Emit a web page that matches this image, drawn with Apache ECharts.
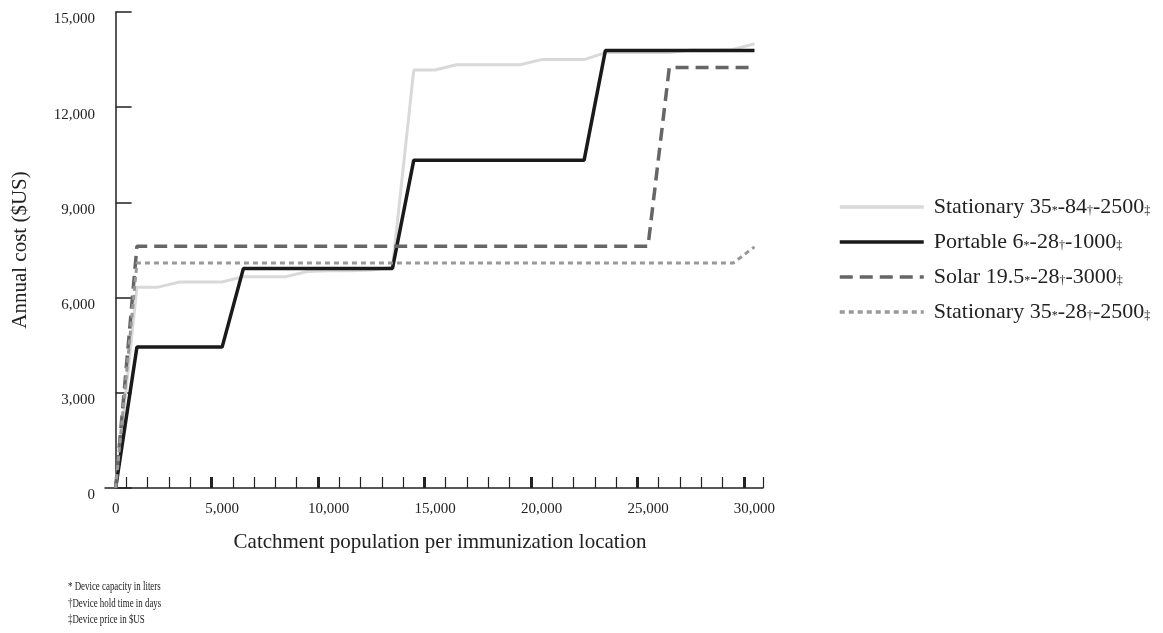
<!DOCTYPE html>
<html>
<head>
<meta charset="utf-8">
<script src="https://cdn.jsdelivr.net/npm/echarts@6/dist/echarts.min.js"></script>
<style>
  html, body { margin: 0; padding: 0; background: #fff; }
  #chart { width: 1163px; height: 633px; }
</style>
</head>
<body>
<div id="chart"></div>
<script>
// catchment population (x), one point every 1,000 people
const population = [0, 1000, 2000, 3000, 4000, 5000, 6000, 7000, 8000, 9000, 10000,
  11000, 12000, 13000, 14000, 15000, 16000, 17000, 18000, 19000, 20000,
  21000, 22000, 23000, 24000, 25000, 26000, 27000, 28000, 29000, 30000]

// annual cost ($US)
const stationary84 = [0, 6330, 6330, 6490, 6490, 6490, 6660, 6660, 6660, 6820, 6850,
  6850, 6870, 6950, 13170, 13170, 13340, 13340, 13340, 13340, 13500,
  13500, 13500, 13720, 13720, 13720, 13720, 13800, 13800, 13820, 14000]
const portable = [0, 4440, 4440, 4440, 4440, 4440, 6920, 6920, 6920, 6920, 6920,
  6920, 6920, 6920, 10330, 10330, 10330, 10330, 10330, 10330, 10330,
  10330, 10330, 13790, 13790, 13790, 13790, 13790, 13790, 13790, 13790]
const solar = [0, 7620, 7620, 7620, 7620, 7620, 7620, 7620, 7620, 7620, 7620,
  7620, 7620, 7620, 7620, 7620, 7620, 7620, 7620, 7620, 7620,
  7620, 7620, 7620, 7620, 7620, 13250, 13250, 13250, 13250, 13250]
const stationary28 = [0, 7090, 7090, 7090, 7090, 7090, 7090, 7090, 7090, 7090, 7090,
  7090, 7090, 7090, 7090, 7090, 7090, 7090, 7090, 7090, 7090,
  7090, 7090, 7090, 7090, 7090, 7090, 7090, 7090, 7090, 7600]

const xLabels = [0, 5000, 10000, 15000, 20000, 25000, 30000]
const minorTicks = [500, 1500, 2500, 3500, 5500, 6500, 7500, 8500, 10500, 11500, 12500, 13500,
  15500, 16500, 17500, 18500, 20500, 21500, 22500, 23500, 25500, 26500, 27500, 28500, 30400]
const majorTicks = [4500, 9500, 14500, 19500, 24500, 29500]

const legendRich = {
  'Stationary 35-84-2500': 'Stationary 35{s|*}-84{s|†}-2500{s|‡}',
  'Portable 6-28-1000': 'Portable 6{s|*}-28{s|†}-1000{s|‡}',
  'Solar 19.5-28-3000': 'Solar 19.5{s|*}-28{s|†}-3000{s|‡}',
  'Stationary 35-28-2500': 'Stationary 35{s|*}-28{s|†}-2500{s|‡}',
}

const font = 'Liberation Serif'
const ink = '#222'
const pairs = arr => population.map((p, i) => [p, arr[i]])
const fmt = v => v.toLocaleString('en-US')

const chart = echarts.init(document.getElementById('chart'))
chart.setOption({
  animation: false,
  textStyle: { fontFamily: font, color: ink },
  grid: { left: 105, right: 400, top: 12, bottom: 145, containLabel: false, outerBoundsMode: 'none' },
  legend: {
    orient: 'vertical',
    left: 838, top: 196, padding: 0,
    itemWidth: 84, itemHeight: 22, itemGap: 13,
    itemStyle: { opacity: 0 },
    lineStyle: { width: 3.5 },
    textStyle: {
      fontFamily: font, fontSize: 22, color: ink, padding: [0, 0, 0, 5],
      rich: { s: { fontFamily: font, fontSize: 12, color: ink, padding: [7, 0, 0, 0] } },
    },
    formatter: name => legendRich[name],
  },
  xAxis: [
    {
      type: 'value', min: -500, max: 30400, position: 'bottom',
      name: 'Catchment population per immunization location',
      nameLocation: 'middle', nameGap: 44,
      nameTextStyle: { fontFamily: font, fontSize: 21, color: ink, padding: [0, 0, 0, 12] },
      splitLine: { show: false },
      axisLine: { onZero: false, lineStyle: { color: ink, width: 1.5 } },
      axisTick: { inside: true, length: 11, customValues: minorTicks, lineStyle: { color: ink, width: 1.2 } },
      axisLabel: { customValues: xLabels, margin: 14, fontSize: 15, color: ink, fontFamily: font, formatter: fmt },
    },
    {
      type: 'value', min: -500, max: 30400, position: 'bottom',
      splitLine: { show: false },
      axisLine: { show: false, onZero: false },
      axisTick: { inside: true, length: 11, customValues: majorTicks, lineStyle: { color: ink, width: 3 } },
      axisLabel: { show: false },
    },
  ],
  yAxis: {
    type: 'value', min: 0, max: 15000, interval: 3000,
    name: 'Annual cost ($US)',
    nameLocation: 'middle', nameGap: 74,
    nameTextStyle: { fontFamily: font, fontSize: 21, color: ink },
    splitLine: { show: false },
    axisLine: { show: true, lineStyle: { color: ink, width: 1.5 } },
    axisTick: { show: true, inside: true, length: 16, lineStyle: { color: ink, width: 1.5 } },
    axisLabel: { margin: 10, fontSize: 15, color: ink, fontFamily: font, verticalAlign: 'top', formatter: fmt },
  },
  series: [
    {
      name: 'Stationary 35-84-2500', type: 'line', data: pairs(stationary84),
      symbol: 'none', lineStyle: { color: '#d9d9d9', width: 3 }, itemStyle: { color: '#d9d9d9' },
    },
    {
      name: 'Portable 6-28-1000', type: 'line', data: pairs(portable),
      symbol: 'none', lineStyle: { color: '#1a1a1a', width: 3.5 }, itemStyle: { color: '#1a1a1a' },
    },
    {
      name: 'Solar 19.5-28-3000', type: 'line', data: pairs(solar),
      symbol: 'none', lineStyle: { color: '#666', width: 3.5, type: [13, 7] }, itemStyle: { color: '#666' },
    },
    {
      name: 'Stationary 35-28-2500', type: 'line', data: pairs(stationary28),
      symbol: 'none', lineStyle: { color: '#999', width: 3, type: [5, 4] }, itemStyle: { color: '#999' },
    },
  ],
  graphic: [
    {
      type: 'text', left: 68, top: 579, scaleX: 0.74,
      style: {
        text: '* Device capacity in liters\n†Device hold time in days\n‡Device price in $US',
        font: '12px "Liberation Serif"', fill: ink, lineHeight: 16.5,
      },
    },
  ],
})
</script>
</body>
</html>
